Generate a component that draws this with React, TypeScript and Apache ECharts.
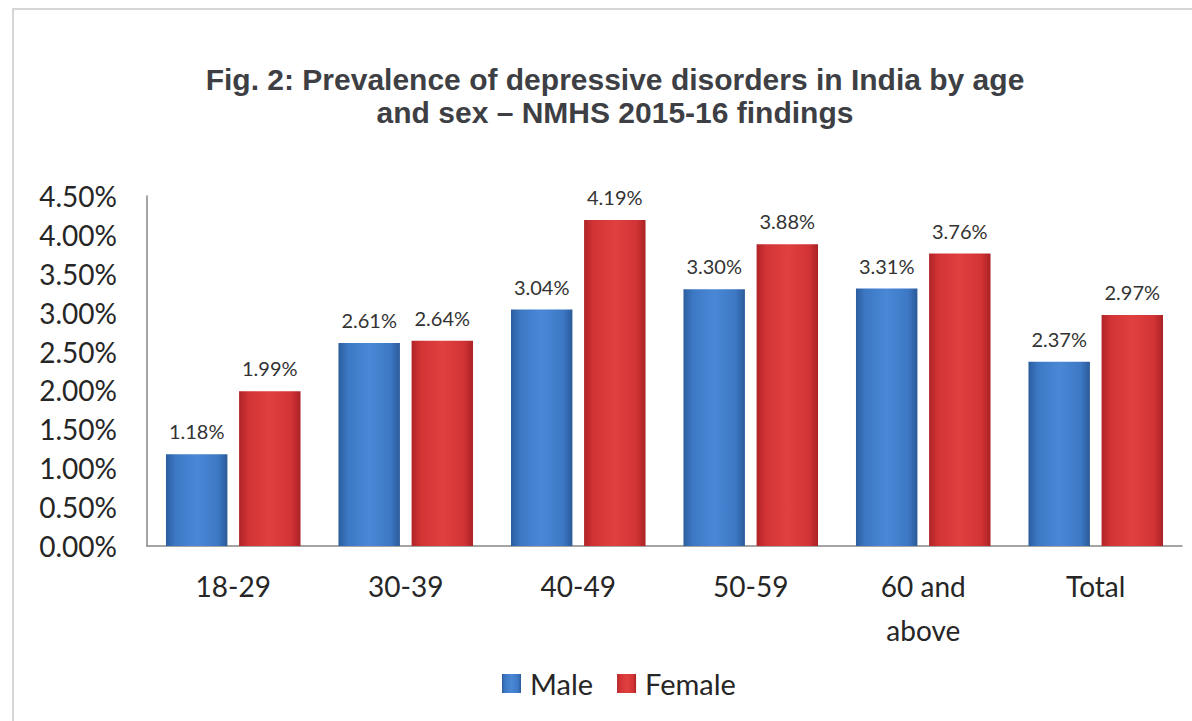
import React, { useEffect, useRef } from "react";
import * as echarts from "echarts";

const categories = ["18-29", "30-39", "40-49", "50-59", "60 and\nabove", "Total"];
const maleValues = [1.18, 2.61, 3.04, 3.3, 3.31, 2.37];
const femaleValues = [1.99, 2.64, 4.19, 3.88, 3.76, 2.97];
const seriesNames = ["Male", "Female"];
const titleText = "Fig. 2: Prevalence of depressive disorders in India by age\nand sex – NMHS 2015-16 findings";

const blueGrad = new echarts.graphic.LinearGradient(0, 0, 1, 0, [
  { offset: 0, color: "#2b5d9e" },
  { offset: 0.15, color: "#3c78c4" },
  { offset: 0.5, color: "#4a88d6" },
  { offset: 0.85, color: "#3c78c4" },
  { offset: 1, color: "#2b5a98" },
]);
const redGrad = new echarts.graphic.LinearGradient(0, 0, 1, 0, [
  { offset: 0, color: "#b02427" },
  { offset: 0.15, color: "#d23335" },
  { offset: 0.5, color: "#e0403f" },
  { offset: 0.85, color: "#d23335" },
  { offset: 1, color: "#a92225" },
]);

export default function App() {
  const ref = useRef<HTMLDivElement>(null);
  useEffect(() => {
    if (!ref.current) return;
    const chart = echarts.init(ref.current, null, { renderer: "svg" });
    const font = "Lato, 'Noto Sans', sans-serif";
    const labelCfg = {
      show: true,
      position: "top",
      distance: 13,
      fontFamily: font,
      fontSize: 20,
      color: "#333333",
      formatter: (p: any) => p.value.toFixed(2) + "%",
    };
    chart.setOption({
      animation: false,
      backgroundColor: "#ffffff",
      title: {
        text: titleText,
        left: 610,
        top: 58,
        textAlign: "center",
        textStyle: {
          fontFamily: "'Liberation Sans', Arial, sans-serif",
          fontWeight: "bold",
          fontSize: 30,
          lineHeight: 33,
          color: "#3d3f44",
        },
      },
      graphic: [
        {
          type: "rect",
          shape: { x: 13, y: 9, width: 1300, height: 800 },
          style: { fill: "none", stroke: "#d6d6d6", lineWidth: 2 },
          silent: true,
        },
      ],
      legend: {
        data: seriesNames,
        left: 497,
        top: 664,
        itemWidth: 19,
        itemHeight: 19,
        itemGap: 24,
        icon: "rect",
        textStyle: { fontFamily: font, fontSize: 29, color: "#262626", padding: [0, 0, 0, 4] },
      },
      grid: { left: 147, right: 10, top: 196, bottom: 175, containLabel: false },
      xAxis: {
        type: "category",
        data: categories,
        axisLine: { lineStyle: { color: "#868686", width: 1.5 } },
        axisTick: { show: false },
        axisLabel: {
          fontFamily: font,
          fontSize: 28,
          lineHeight: 44,
          color: "#262626",
          margin: 18,
          interval: 0,
        },
      },
      yAxis: {
        type: "value",
        min: 0,
        max: 4.5,
        interval: 0.5,
        axisLine: { show: true, lineStyle: { color: "#868686", width: 1.5 } },
        axisTick: { show: false },
        splitLine: { show: false },
        axisLabel: {
          fontFamily: font,
          fontSize: 28,
          color: "#262626",
          margin: 30,
          formatter: (v: number) => v.toFixed(2) + "%",
        },
      },
      series: [
        {
          name: seriesNames[0],
          type: "bar",
          data: maleValues,
          barGap: "19%",
          barCategoryGap: "22%",
          itemStyle: { color: blueGrad },
          label: labelCfg,
        },
        {
          name: seriesNames[1],
          type: "bar",
          data: femaleValues,
          barGap: "19%",
          barCategoryGap: "22%",
          itemStyle: { color: redGrad },
          label: labelCfg,
        },
      ],
    });
    return () => chart.dispose();
  }, []);
  return (
    <div
      ref={ref}
      style={{ position: "fixed", left: 0, top: 0, width: 1192, height: 721 }}
    />
  );
}
